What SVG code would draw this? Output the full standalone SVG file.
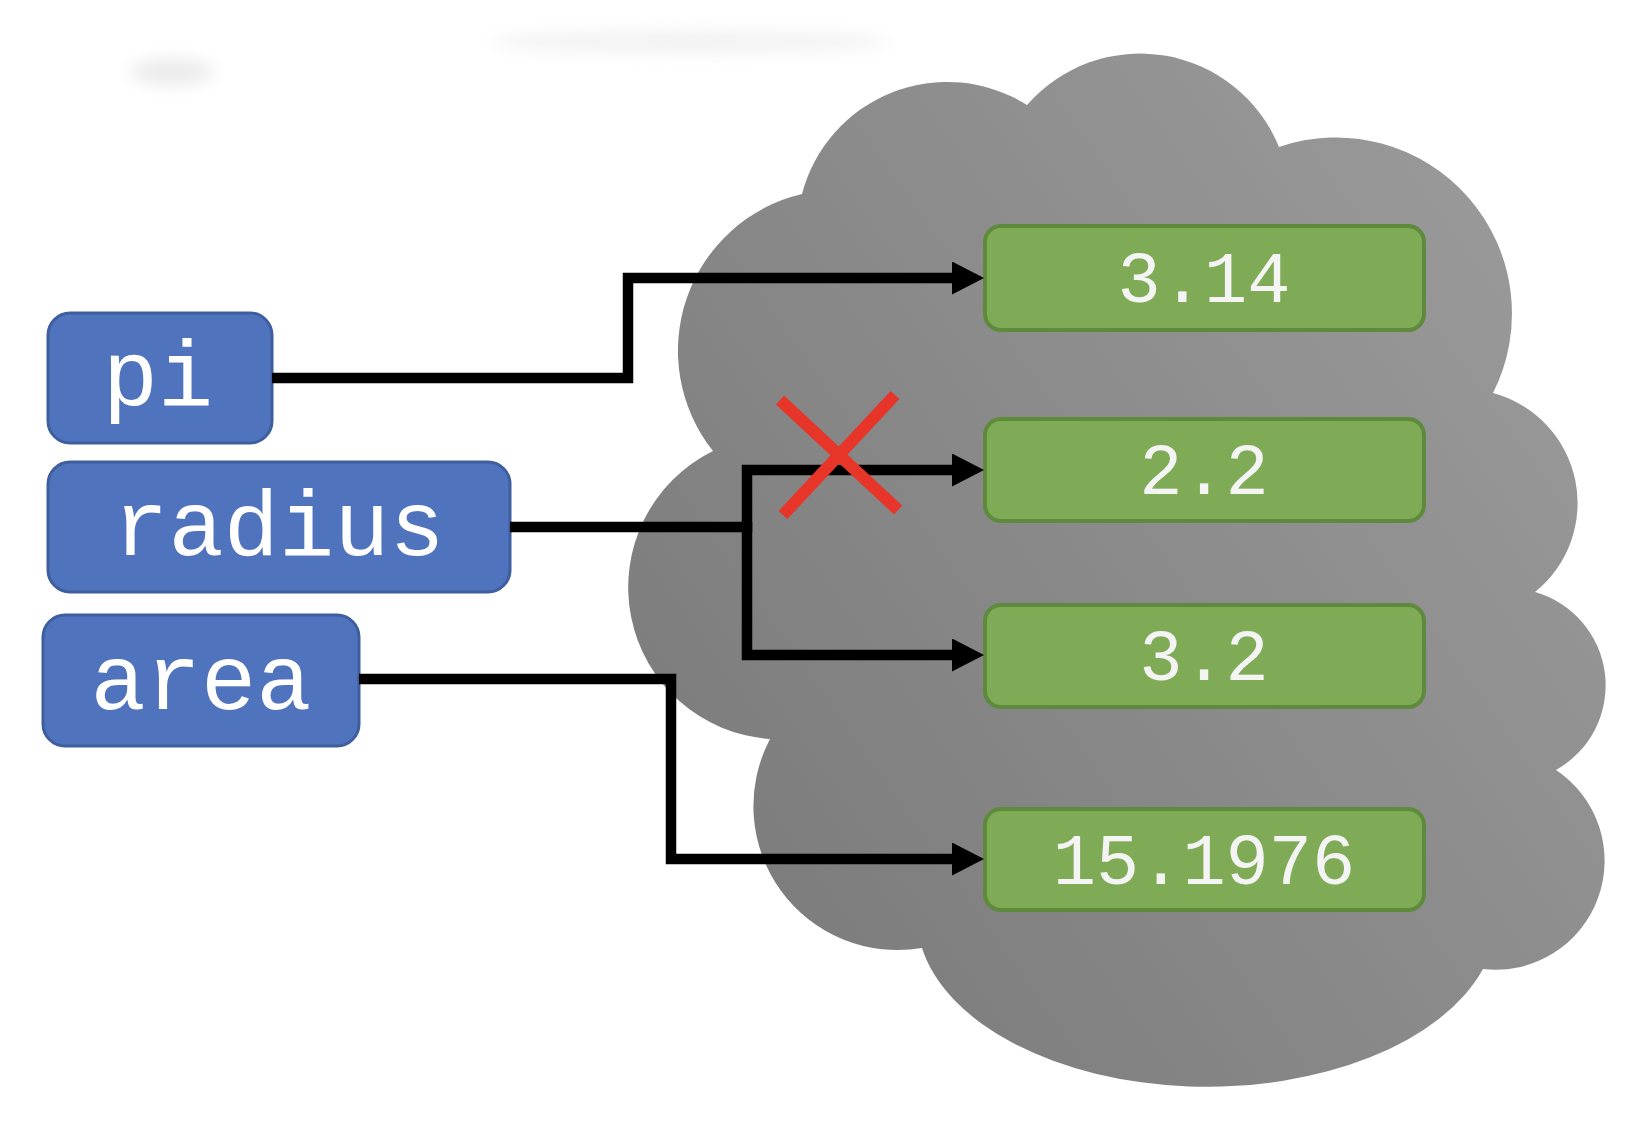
<svg xmlns="http://www.w3.org/2000/svg" width="1636" height="1126" viewBox="0 0 1636 1126">
<defs>
<style>
.var rect{fill:#5073BE;stroke:#3E5E9E;stroke-width:3}
.val rect{fill:#7FAA56;stroke:#5E8A3C;stroke-width:4}
.var text{font-family:"Liberation Mono","DejaVu Sans Mono",monospace;font-size:92px;fill:#ffffff;text-anchor:middle}
.val text{font-family:"Liberation Mono","DejaVu Sans Mono",monospace;font-size:72px;fill:#F4F4F4;text-anchor:middle}
.conn path{fill:none;stroke:#000;stroke-width:10.5;stroke-linejoin:miter;marker-end:url(#arrow)}
.cross line{stroke:#E8352A;stroke-width:12}
</style>
<linearGradient id="cloudGrad" gradientUnits="userSpaceOnUse" x1="640" y1="900" x2="1600" y2="220">
<stop offset="0" stop-color="#7A7A7A"/>
<stop offset="1" stop-color="#9B9B9B"/>
</linearGradient>
<marker id="arrow" markerUnits="userSpaceOnUse" markerWidth="32" markerHeight="33" refX="0" refY="16.5" orient="auto" viewBox="0 0 32 33">
<path d="M0,0 L32,16.5 L0,33 Z" fill="#000"/>
</marker>
<filter id="blur" x="-50%" y="-50%" width="200%" height="200%"><feGaussianBlur stdDeviation="8"/></filter>
</defs>
<rect width="1636" height="1126" fill="#ffffff"/>
<g id="smudges" filter="url(#blur)">
<ellipse cx="172" cy="72" rx="42" ry="14" fill="#ECECEC"/>
<ellipse cx="690" cy="42" rx="200" ry="12" fill="#F3F3F3"/>
</g>
<g id="cloud">
<path d="M802,194 A150,150 0 0 1 1027,105 A150,150 0 0 1 1279,147 A176,176 0 0 1 1493,393 A114,114 0 0 1 1535,592 A97,97 0 0 1 1556,770 A109,109 0 0 1 1483,969 A290,170 0 0 1 922,948 A144,144 0 0 1 770,739 A152,152 0 0 1 713,451 A161,161 0 0 1 802,194 Z" fill="url(#cloudGrad)"/>
</g>
<g id="var-pi" class="var"><rect x="48" y="313" width="224" height="130" rx="22"/><text x="158" y="405">pi</text></g>
<g id="var-radius" class="var"><rect x="48" y="462" width="462" height="130" rx="22"/><text x="279" y="555">radius</text></g>
<g id="var-area" class="var"><rect x="43" y="615" width="316" height="131" rx="22"/><text x="201" y="709">area</text></g>
<g id="val-314" class="val"><rect x="985" y="226" width="439" height="104" rx="16"/><text x="1204" y="302">3.14</text></g>
<g id="val-22" class="val"><rect x="985" y="419" width="439" height="102" rx="16"/><text x="1204" y="494">2.2</text></g>
<g id="val-32" class="val"><rect x="985" y="605" width="439" height="102" rx="16"/><text x="1204" y="680">3.2</text></g>
<g id="val-151976" class="val"><rect x="985" y="809" width="439" height="101" rx="16"/><text x="1204" y="884">15.1976</text></g>
<g id="connectors" class="conn">
<path d="M272,378 H628 V278 H952"/>
<path d="M510,527 H747 V470 H952"/>
<path d="M747,522 V655 H952"/>
<path d="M359,679 H671 V859 H952"/>
</g>
<g id="cross" class="cross">
<line x1="780" y1="400" x2="898" y2="510"/>
<line x1="895" y1="395" x2="783" y2="515"/>
</g>
</svg>
